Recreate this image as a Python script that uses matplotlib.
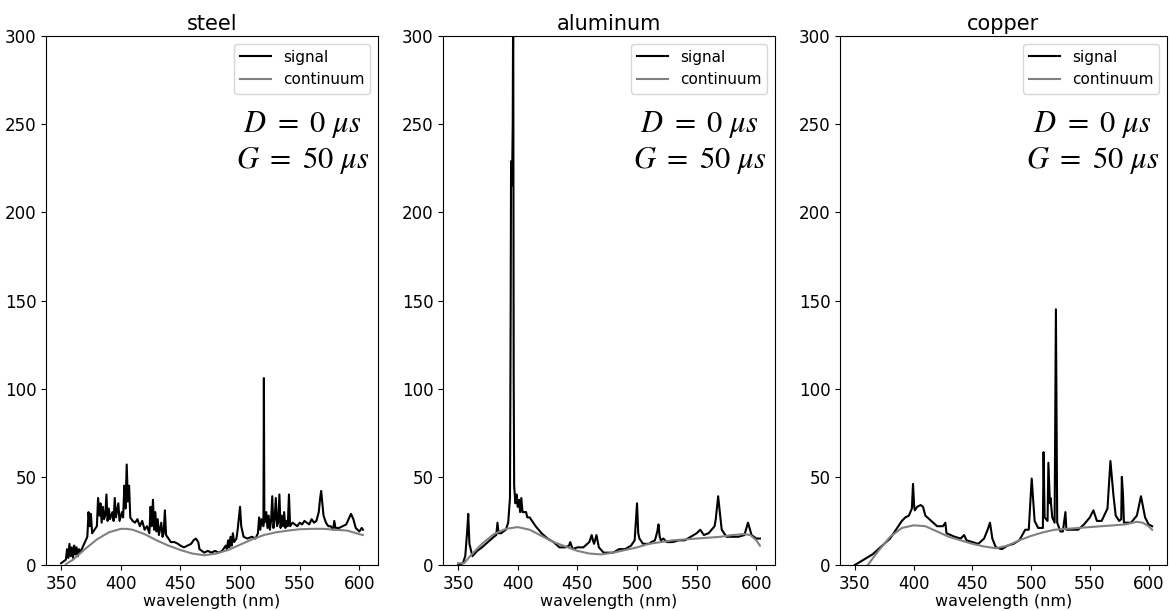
import matplotlib.pyplot as plt

plt.rcParams['mathtext.fontset'] = 'stix'

# steel
steel_wl = [350, 352, 354, 355, 356, 357, 358, 359, 360, 361, 362, 363, 364, 365, 366, 368, 370, 372,
            373, 374, 375, 376, 378, 380, 381, 382, 383, 384, 385, 386, 387, 388, 389, 390, 391, 393,
            394, 395, 396, 398, 399, 401, 402, 403, 404, 405, 406, 407, 408, 410, 412, 414, 416, 418,
            420, 422, 424, 425, 426, 427, 428, 429, 430, 431, 432, 434, 435, 436, 437, 438, 440, 442,
            445, 448, 450, 453, 456, 459, 461, 463, 465, 466, 468, 470, 473, 476, 479, 482, 485, 488,
            489, 490, 491, 492, 493, 494, 495, 497, 498, 500, 501, 503, 506, 510, 513, 515, 516, 517,
            518, 519.6, 520, 520.4, 522, 523, 524, 525, 526, 527, 528, 529, 530, 531, 532, 533, 534,
            535, 536, 537, 538, 539, 540, 541, 542, 544, 546, 548, 550, 552, 554, 556, 558, 560, 562,
            564, 566, 567, 568, 569, 570, 572, 574, 576, 578, 579, 580, 583, 586, 589, 591, 593, 595,
            597, 600, 602, 603]
steel_sig = [1, 2, 3, 9, 4, 12, 5, 10, 4, 11, 6, 10, 5, 9, 7, 10, 13, 16,
             30, 22, 29, 18, 20, 22, 38, 28, 35, 24, 33, 26, 28, 40, 25, 32, 26, 30,
             25, 38, 27, 35, 25, 30, 27, 45, 32, 57, 36, 45, 27, 25, 24, 26, 22, 25,
             20, 22, 18, 33, 22, 37, 20, 30, 19, 26, 17, 24, 16, 18, 31, 17, 15, 13,
             13, 12, 11, 10, 11, 12, 14, 15, 13, 9, 8, 7, 8, 7, 8, 7, 8, 11,
             9, 14, 10, 16, 11, 18, 13, 15, 20, 33, 22, 16, 15, 16, 15, 18, 27, 20,
             26, 22, 106, 24, 30, 21, 28, 20, 25, 39, 21, 26, 38, 22, 24, 40, 21,
             28, 22, 30, 21, 25, 22, 40, 22, 24, 23, 22, 24, 23, 25, 24, 23, 26, 24,
             25, 30, 37, 42, 35, 28, 24, 22, 22, 20, 25, 21, 21, 22, 23, 26, 29, 26,
             21, 19, 21, 20]
steel_cont_wl = [354, 360, 370, 380, 390, 400, 405, 410, 420, 430, 440, 450, 460, 470, 480, 490,
                 500, 510, 520, 530, 540, 550, 560, 570, 580, 590, 600, 603]
steel_cont = [0.5, 3, 9, 14.5, 18.5, 20.5, 20.5, 20, 17.5, 14, 11, 8.5, 6.5, 5.5, 6.5, 8.5,
              11.5, 14.5, 17, 18.5, 19.5, 20.3, 20.5, 20.5, 20, 19.5, 17.5, 17]

# aluminum
al_wl = [350, 354, 356, 357.5, 358.5, 359.5, 362, 366, 370, 375, 380, 382, 383, 384, 386, 390,
         392, 393.5, 394.1, 394.4, 394.8, 395.3, 395.8, 396.2, 396.6, 397, 398, 399, 400, 401,
         402, 403, 404, 405, 407, 408, 410, 415, 420, 425, 430, 435, 440, 443, 444, 446, 450,
         455, 460, 462, 463, 464, 466, 468, 472, 476, 480, 485, 490, 495, 498, 500, 501, 502,
         505, 510, 512, 515, 517, 518, 519, 520, 522, 525, 530, 535, 540, 545, 550, 553, 556,
         560, 565, 566, 568, 570, 571, 575, 580, 585, 590, 593, 596, 600, 603]
al_sig = [0, 1, 5, 18, 29, 12, 5, 8, 10, 13, 16, 17, 24, 18, 18, 20,
          24, 38, 150, 229, 215, 220, 250, 330, 110, 45, 35, 40, 33, 37,
          30, 38, 30, 30, 30, 27, 27, 22, 18, 15, 13, 10, 10, 11, 13, 9, 10,
          10, 13, 17, 14, 12, 17, 10, 7, 7, 7, 9, 9, 11, 14, 35, 18, 15,
          12, 12, 13, 14, 19, 23, 16, 14, 15, 13, 13, 14, 14, 16, 18, 20, 17,
          18, 22, 26, 39, 26, 20, 16, 16, 16, 17, 24, 17, 15, 15]
al_cont_wl = [350, 355, 360, 370, 380, 390, 400, 410, 420, 430, 440, 450, 460, 470, 480, 490,
              500, 510, 520, 530, 540, 550, 560, 570, 580, 590, 595, 600, 603]
al_cont = [1, 1, 5, 12, 17.5, 20.5, 21.5, 20, 16.5, 13, 10.5, 8, 6.5, 6, 7, 8.5,
           10, 12, 13, 14, 14.5, 15, 15.5, 16, 17, 17.5, 17, 14, 11]

# copper
cu_wl = [350, 355, 360, 365, 370, 375, 380, 385, 390, 393, 396, 398.5, 399.5, 400.5, 401, 403,
         406, 408, 410, 415, 420, 425, 427, 428, 435, 440, 443, 445, 450, 455, 460, 463, 465,
         467, 470, 475, 480, 485, 490, 495, 498, 500.5, 503, 506, 510, 510.6, 511.5, 514,
         514.7, 516, 516.5, 518, 520, 521.1, 522.2, 525, 527, 529.2, 530, 535, 540, 545, 550,
         553, 556, 560, 565, 567.5, 570, 572, 575, 576.7, 577.2, 578.2, 579, 585, 590, 593.5,
         597, 600, 603]
cu_sig = [0, 2, 4, 6, 9, 12, 15, 20, 25, 27, 28, 32, 46, 33, 31, 33,
          34, 33, 28, 25, 22, 22, 24, 18, 16, 15, 17, 14, 13, 12, 15, 20, 24,
          15, 10, 9, 11, 12, 14, 20, 20, 49, 25, 21, 21, 64, 27, 25,
          58, 35, 38, 27, 24, 145, 24, 19, 19, 30, 20, 20, 20, 23, 27,
          31, 25, 25, 32, 59, 40, 28, 25, 26, 50, 40, 24, 24, 28, 39,
          27, 23, 22]
cu_cont_wl = [361, 370, 380, 390, 400, 410, 420, 430, 440, 450, 460, 470, 480, 490, 500, 510,
              520, 530, 540, 550, 560, 570, 580, 590, 595, 600, 603]
cu_cont = [0, 8, 16, 21, 22.5, 22, 19, 16, 14, 12, 10.5, 9.5, 11, 14, 16.5, 18.5,
           20, 20.5, 21, 21.5, 22, 22.5, 23, 24.5, 24, 22, 20]

titles = ['steel', 'aluminum', 'copper']
panels = [(steel_wl, steel_sig, steel_cont_wl, steel_cont),
          (al_wl, al_sig, al_cont_wl, al_cont),
          (cu_wl, cu_sig, cu_cont_wl, cu_cont)]
lefts = [46, 443, 840]
widths = [332, 332, 327]

fig = plt.figure(figsize=(11.71, 6.11), dpi=100)

for i in range(3):
    ax = fig.add_axes([lefts[i] / 1171, 1 - 565 / 611, widths[i] / 1171, 529 / 611])
    wl, sig, cwl, cont = panels[i]
    ax.plot(wl, sig, color='black', lw=1.5, label='signal')
    ax.plot(cwl, cont, color='gray', lw=1.5, label='continuum')
    ax.set_xlim(337.35, 615.65)
    ax.set_ylim(0, 300)
    ax.set_xticks([350, 400, 450, 500, 550, 600])
    ax.set_yticks([0, 50, 100, 150, 200, 250, 300])
    ax.tick_params(labelsize=12)
    ax.set_title(titles[i], fontsize=15, pad=4)
    ax.set_xlabel('wavelength (nm)', fontsize=11.5, labelpad=1)
    ax.legend(loc='upper right', fontsize=11)
    # подпись с задержкой и шириной строба
    ax.text(0.772, 0.862, '$D\\ =\\ 0\\ \\mu s$\n$G\\ =\\ 50\\ \\mu s$', transform=ax.transAxes,
            ha='center', va='top', fontsize=22, multialignment='center', linespacing=1.2)

plt.savefig('out.png')
